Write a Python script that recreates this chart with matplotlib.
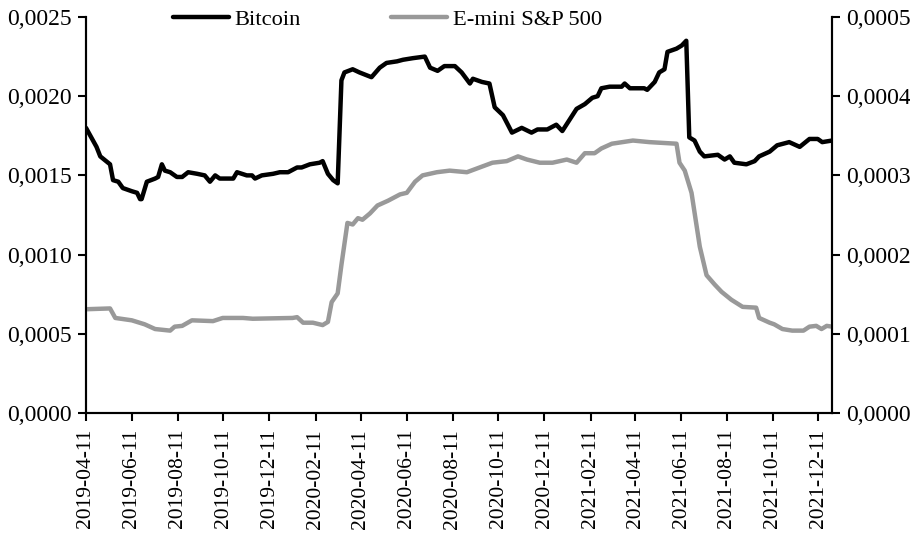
import pandas as pd
import matplotlib
matplotlib.use("Agg")
import matplotlib.pyplot as plt
import matplotlib.dates as mdates
from matplotlib.ticker import FuncFormatter, MultipleLocator

plt.rcParams['font.family'] = ['Liberation Serif', 'DejaVu Serif']

# Bitcoin series (left axis)
btc_dates = [
    '2019-04-11', '2019-04-25', '2019-04-30', '2019-05-13', '2019-05-17', '2019-05-24',
    '2019-05-30', '2019-06-11', '2019-06-18', '2019-06-22', '2019-06-24', '2019-07-01',
    '2019-07-12', '2019-07-16', '2019-07-21', '2019-07-25', '2019-08-01', '2019-08-10',
    '2019-08-17', '2019-08-25', '2019-09-06', '2019-09-16', '2019-09-23', '2019-09-30',
    '2019-10-06', '2019-10-24', '2019-10-29', '2019-11-11', '2019-11-18', '2019-11-22',
    '2019-12-01', '2019-12-16', '2019-12-25', '2020-01-05', '2020-01-17', '2020-01-23',
    '2020-02-03', '2020-02-16', '2020-02-20', '2020-02-27', '2020-03-05', '2020-03-11',
    '2020-03-16', '2020-03-20', '2020-03-31', '2020-04-09', '2020-04-25', '2020-05-06',
    '2020-05-15', '2020-05-29', '2020-06-06', '2020-06-19', '2020-07-05', '2020-07-12',
    '2020-07-22', '2020-07-31', '2020-08-14', '2020-08-23', '2020-09-03', '2020-09-07',
    '2020-09-19', '2020-09-29', '2020-10-06', '2020-10-17', '2020-10-29', '2020-11-11',
    '2020-11-24', '2020-12-02', '2020-12-15', '2020-12-27', '2021-01-04', '2021-01-23',
    '2021-02-03', '2021-02-13', '2021-02-20', '2021-02-25', '2021-03-08', '2021-03-24',
    '2021-03-28', '2021-04-04', '2021-04-23', '2021-04-27', '2021-05-07', '2021-05-13',
    '2021-05-20', '2021-05-24', '2021-06-05', '2021-06-12', '2021-06-18', '2021-06-22',
    '2021-06-29', '2021-07-06', '2021-07-12', '2021-07-30', '2021-08-08', '2021-08-15',
    '2021-08-21', '2021-09-06', '2021-09-17', '2021-09-23', '2021-10-07', '2021-10-17',
    '2021-11-02', '2021-11-16', '2021-11-29', '2021-12-10', '2021-12-16', '2021-12-29',
]
btc_values = [
    0.00180, 0.00168, 0.00162, 0.00157, 0.00147, 0.00146,
    0.00142, 0.00140, 0.00139, 0.00135, 0.00135, 0.00146,
    0.00148, 0.00149, 0.00157, 0.00153, 0.00152, 0.00149,
    0.00149, 0.00152, 0.00151, 0.00150, 0.00146, 0.00150,
    0.00148, 0.00148, 0.00152, 0.00150, 0.00150, 0.00148,
    0.00150, 0.00151, 0.00152, 0.00152, 0.00155, 0.00155,
    0.00157, 0.00158, 0.00159, 0.00151, 0.00147, 0.00145,
    0.00210, 0.00215, 0.00217, 0.00215, 0.00212, 0.00218,
    0.00221, 0.00222, 0.00223, 0.00224, 0.00225, 0.00218,
    0.00216, 0.00219, 0.00219, 0.00215, 0.00208, 0.00211,
    0.00209, 0.00208, 0.00193, 0.00188, 0.00177, 0.00180,
    0.00177, 0.00179, 0.00179, 0.00182, 0.00178, 0.00192,
    0.00195, 0.00199, 0.00200, 0.00205, 0.00206, 0.00206,
    0.00208, 0.00205, 0.00205, 0.00204, 0.00209, 0.00215,
    0.00217, 0.00228, 0.00230, 0.00232, 0.00235, 0.00174,
    0.00172, 0.00165, 0.00162, 0.00163, 0.00160, 0.00162,
    0.00158, 0.00157, 0.00159, 0.00162, 0.00165, 0.00169,
    0.00171, 0.00168, 0.00173, 0.00173, 0.00171, 0.00172,
]

# E-mini S&P 500 series (right axis)
sp_dates = [
    '2019-04-11', '2019-05-13', '2019-05-20', '2019-06-11', '2019-06-28', '2019-07-12',
    '2019-08-01', '2019-08-07', '2019-08-17', '2019-08-30', '2019-09-27', '2019-10-10',
    '2019-11-06', '2019-11-19', '2020-01-11', '2020-01-17', '2020-01-25', '2020-02-07',
    '2020-02-20', '2020-02-27', '2020-03-03', '2020-03-11', '2020-03-16', '2020-03-24',
    '2020-03-31', '2020-04-07', '2020-04-13', '2020-04-23', '2020-05-03', '2020-05-17',
    '2020-06-02', '2020-06-11', '2020-06-22', '2020-07-02', '2020-07-21', '2020-08-07',
    '2020-08-30', '2020-09-16', '2020-10-03', '2020-10-22', '2020-11-06', '2020-11-18',
    '2020-12-05', '2020-12-22', '2021-01-10', '2021-01-23', '2021-02-03', '2021-02-16',
    '2021-02-25', '2021-03-11', '2021-04-08', '2021-04-30', '2021-06-05', '2021-06-09',
    '2021-06-16', '2021-06-25', '2021-07-06', '2021-07-15', '2021-07-26', '2021-08-04',
    '2021-08-17', '2021-09-01', '2021-09-19', '2021-09-23', '2021-10-07', '2021-10-13',
    '2021-10-24', '2021-11-06', '2021-11-21', '2021-11-29', '2021-12-08', '2021-12-15',
    '2021-12-22', '2021-12-29',
]
sp_values = [
    0.000131, 0.000132, 0.000120, 0.000117, 0.000112, 0.000106,
    0.000104, 0.000109, 0.000110, 0.000117, 0.000116, 0.000120,
    0.000120, 0.000119, 0.000120, 0.000121, 0.000114, 0.000114,
    0.000111, 0.000115, 0.000140, 0.000151, 0.000187, 0.000240,
    0.000238, 0.000246, 0.000244, 0.000252, 0.000262, 0.000268,
    0.000276, 0.000278, 0.000292, 0.000300, 0.000304, 0.000306,
    0.000304, 0.000310, 0.000316, 0.000318, 0.000324, 0.000320,
    0.000316, 0.000316, 0.000320, 0.000316, 0.000328, 0.000328,
    0.000334, 0.000340, 0.000344, 0.000342, 0.000340, 0.000316,
    0.000306, 0.000278, 0.000210, 0.000174, 0.000162, 0.000153,
    0.000143, 0.000134, 0.000133, 0.000120, 0.000114, 0.000112,
    0.000106, 0.000104, 0.000104, 0.000109, 0.000110, 0.000106,
    0.000110, 0.000109,
]

comma_fmt = FuncFormatter(lambda v, pos: f'{v:.4f}'.replace('.', ','))

fig = plt.figure(figsize=(9.1, 5.36), dpi=100)
ax = fig.add_axes([0.0945, 0.2295, 0.8198, 0.7388])
ax2 = ax.twinx()

l1, = ax.plot(pd.to_datetime(btc_dates), btc_values, color='black', lw=3.2,
              label='Bitcoin', solid_joinstyle='round', solid_capstyle='round')
l2, = ax2.plot(pd.to_datetime(sp_dates), sp_values, color='#999999', lw=3.2,
               label='E-mini S&P 500', solid_joinstyle='round', solid_capstyle='round')

ax.set_xlim(pd.Timestamp('2019-04-11'), pd.Timestamp('2021-12-29'))
ax.set_ylim(0, 0.0025)
ax2.set_ylim(0, 0.0005)
ax.yaxis.set_major_locator(MultipleLocator(0.0005))
ax2.yaxis.set_major_locator(MultipleLocator(0.0001))
ax.yaxis.set_major_formatter(comma_fmt)
ax2.yaxis.set_major_formatter(comma_fmt)

ax.xaxis.set_major_locator(mdates.MonthLocator(bymonth=[2, 4, 6, 8, 10, 12], bymonthday=11))
ax.xaxis.set_major_formatter(mdates.DateFormatter('%Y-%m-%d'))
ax.tick_params(axis='x', rotation=90, labelsize=15.5, length=5.5, width=1.5, pad=6, direction='out')
ax.tick_params(axis='y', labelsize=17, length=5.5, width=1.5, pad=5)
ax2.tick_params(axis='y', labelsize=17, length=5.5, width=1.5, pad=5)

for a in (ax, ax2):
    a.spines['top'].set_visible(False)
    for s in ('left', 'right', 'bottom'):
        a.spines[s].set_linewidth(1.5)

fig.legend(handles=[l1, l2], loc='center', bbox_to_anchor=(0.4255, 0.963), ncol=2,
           frameon=False, fontsize=16.2, handlelength=2.5, handletextpad=0.25,
           columnspacing=4.0, borderpad=0)

fig.savefig('out.png', dpi=100)
